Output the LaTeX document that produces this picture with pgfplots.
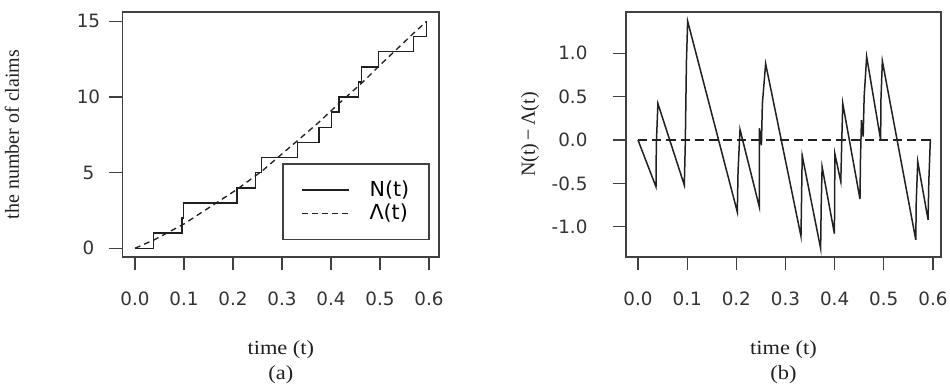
\documentclass[border=0pt]{standalone}
\usepackage{fontspec}
\setmainfont{Liberation Serif}
\newfontfamily\tickfont{DejaVu Sans}
\newfontfamily\labfont[FakeStretch=1.12]{Liberation Serif}
\newfontfamily\labfontr{Liberation Serif}
\usepackage{pgfplots}
\usepackage{pgfplotstable}
\pgfplotsset{compat=1.18}
\definecolor{boxc}{HTML}{404040}
\definecolor{linec}{HTML}{202020}
\definecolor{tickc}{HTML}{333333}
\pgfplotstableread{
t N
0 0
0.038 1
0.0959 2
0.0993 3
0.208 4
0.2456 5
0.258 6
0.332 7
0.3755 8
0.401 9
0.4163 10
0.4558 11
0.4626 12
0.4966 13
0.568 14
0.5952 15
}\stepdata
\pgfplotstableread{
t L
0 0
0.0405 0.58
0.101 1.63
0.2075 3.88
0.2597 5.12
0.334 7.18
0.3745 8.31
0.4165 9.58
0.466 11.02
0.499 12.08
0.569 14.23
0.595 15.0
}\lamdata
\pgfplotstableread{
t D
0 0
0.0366 -0.54
0.0373 -0.04
0.0405 0.42
0.0942 -0.52
0.0962 -0.04
0.0985 0.90
0.101 1.37
0.202 -0.83
0.2035 -0.36
0.2075 0.12
0.2467 -0.77
0.2470 0.135
0.2510 -0.06
0.2530 0.42
0.2596 0.88
0.3315 -1.11
0.334 -0.18
0.3715 -1.25
0.3725 -0.79
0.3745 -0.31
0.3995 -1.08
0.4005 -0.16
0.4125 -0.48
0.4145 0.0
0.4165 0.42
0.4515 -0.68
0.4525 -0.23
0.4545 0.23
0.4580 0.04
0.4600 0.5
0.4651 0.96
0.4936 0.0
0.4940 0.44
0.497 0.91
0.565 -1.15
0.566 -0.70
0.569 -0.25
0.590 -0.92
0.5915 -0.48
0.5946 0.0
}\diffdata
\pgfplotsset{
  rstyle/.style={
    anchor=south west, scale only axis,
    height=147pt,
    axis line style={draw=boxc, line width=0.9pt},
    tick align=outside, tick pos=left,
    major tick length=8pt,
    tick style={draw=boxc, line width=0.8pt},
    ticklabel style={font=\tickfont\fontsize{11}{12}\selectfont, text=tickc},
    xtick={0,0.1,0.2,0.3,0.4,0.5,0.6},
    xticklabels={0.0,0.1,0.2,0.3,0.4,0.5,0.6},
    xticklabel style={anchor=center, yshift=-17.2pt},
  }
}
\begin{document}
\begin{tikzpicture}
\useasboundingbox (0pt,0pt) rectangle (570pt,232.8pt);
\begin{axis}[rstyle,
  at={(73.6pt,78.6pt)}, width=189.8pt,
  xmin=-0.0251, xmax=0.6204, ymin=-0.574, ymax=15.62,
  ytick={0,5,10,15}, yticklabels={0,5,10,15},
  yticklabel style={anchor=center, xshift=-12.5pt},
  legend style={at={(axis cs:0.602,0.548)}, anchor=south east,
    draw=boxc, line width=0.9pt, fill=white,
    font=\tickfont\fontsize{12.4}{14}\selectfont,
    inner xsep=11pt, inner ysep=9.2pt, row sep=1pt, column sep=11pt,
    nodes={inner sep=1pt}},
  legend cell align=left,
  legend image code/.code={\draw[#1] (0pt,0pt) -- (28pt,0pt);},
]
\addplot[const plot, linec, line width=0.9pt] table[x=t,y=N] {\stepdata};
\addlegendentry{N(t)}
\addplot[linec, line width=0.8pt, dash pattern=on 3.5pt off 2.5pt] table[x=t,y=L] {\lamdata};
\addlegendentry{Λ(t)}
\end{axis}
\begin{axis}[rstyle,
  at={(375.6pt,78.6pt)}, width=189pt,
  xmin=-0.0244, xmax=0.6163, ymin=-1.349, ymax=1.476,
  ytick={-1,-0.5,0,0.5,1}, yticklabels={-1.0,-0.5,0.0,0.5,1.0},
  yticklabel style={anchor=east, xshift=-11.6pt},
]
\addplot[linec, line width=0.8pt, dash pattern=on 5.5pt off 3pt] coordinates {(0,0) (0.595,0)};
\addplot[linec, line width=0.9pt] table[x=t,y=D] {\diffdata};
\end{axis}
\node[font=\labfont\fontsize{12}{14}\selectfont, text=linec] at (168.5pt,22.8pt) {time (t)};
\node[font=\labfont\fontsize{12}{14}\selectfont, text=linec] at (168.5pt,7.8pt) {(a)};
\node[font=\labfont\fontsize{12}{14}\selectfont, text=linec] at (470.1pt,22.8pt) {time (t)};
\node[font=\labfont\fontsize{12}{14}\selectfont, text=linec] at (470.1pt,7.8pt) {(b)};
\node[rotate=90, font=\labfontr\fontsize{12}{14}\selectfont, text=linec] at (7.2pt,152.1pt) {the number of claims};
\node[rotate=90, font=\labfontr\fontsize{12}{14}\selectfont, text=linec] at (318pt,152.1pt) {N(t)\,−\,Λ(t)};
\end{tikzpicture}
\end{document}
